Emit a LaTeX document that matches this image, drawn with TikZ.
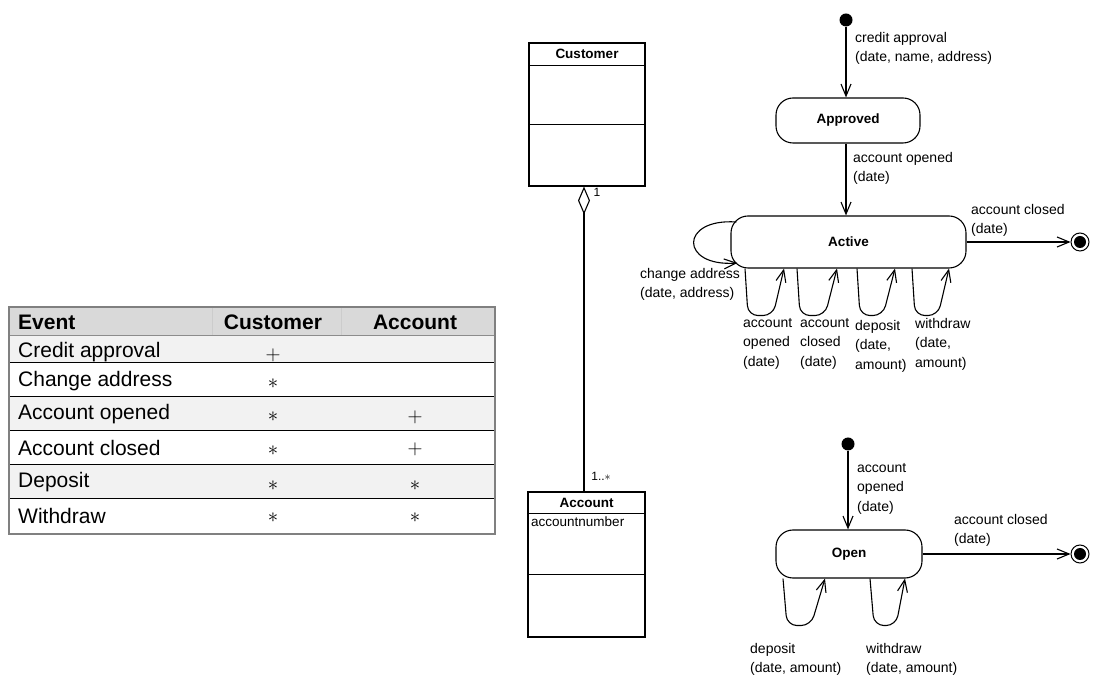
\documentclass[tikz,border=0pt]{standalone}
\usepackage{fontspec}
\setmainfont{Liberation Sans}
\usetikzlibrary{arrows.meta,positioning}

\begin{document}
\begin{tikzpicture}[x=1pt, y=1pt,
  state/.style = {rectangle, rounded corners=17pt, draw, line width=1.1pt, inner sep=0pt,
    font=\fontsize{13.5}{16}\selectfont\bfseries},
  init/.style = {circle, fill=black, inner sep=0pt, minimum size=13pt},
  final/.style = {circle, draw, line width=1pt, inner sep=0pt, minimum size=18pt,
    path picture={\fill (path picture bounding box.center) circle (6pt);}},
  trans/.style = {-{Straight Barb[length=12pt,width=10pt]}, line width=1.1pt},
  lbl/.style = {align=left, anchor=north west, inner sep=0pt,
    font=\fontsize{14}{19.5}\selectfont},
  cell/.style = {anchor=west, inner sep=0pt, font=\fontsize{21}{25}\selectfont},
  head/.style = {inner sep=0pt, font=\fontsize{21}{25}\selectfont\bfseries},
  sym/.style = {inner sep=0pt, font=\fontsize{21}{25}\selectfont},
  cls/.style = {draw, line width=1.1pt, inner sep=0pt},
  clsname/.style = {font=\fontsize{13.5}{16}\selectfont\bfseries}
  ]
  \useasboundingbox (0,0) rectangle (1111,680);

  % event table
  \fill[black!15] (9,345) rectangle (495,373);
  \fill[black!5] (9,317) rectangle (495,345);
  \fill[black!5] (9,249) rectangle (495,283);
  \fill[black!5] (9,181) rectangle (495,215);
  \draw[black!20] (212,345) -- (212,373) (341,345) -- (341,373);
  \draw[black!45] (9,345) -- (495,345);
  \draw[line width=1pt] (9,317) -- (495,317) (9,283) -- (495,283)
    (9,249) -- (495,249) (9,215) -- (495,215) (9,181) -- (495,181);
  \draw[black!50, line width=1.5pt] (9,146) rectangle (495,373);

  \node[head, anchor=west] (hev) at (18,358) {Event};
  \node[head] (hcu) at (273,358) {Customer};
  \node[head] (hac) at (415,358) {Account};
  \node[cell] (ev1) at (18,328) {Credit approval};
  \node[cell] (ev2) at (18,299) {Change address};
  \node[cell] (ev3) at (18,266) {Account opened};
  \node[cell] (ev4) at (18,232) {Account closed};
  \node[cell] (ev5) at (18,198) {Deposit};
  \node[cell] (ev6) at (18,164) {Withdraw};
  \node[sym] (cu1) at (273,325) {$+$};
  \node[sym] (cu2) at (273,296) {$\ast$};
  \node[sym] (cu3) at (273,263) {$\ast$};
  \node[sym] (cu4) at (273,229) {$\ast$};
  \node[sym] (cu5) at (273,194) {$\ast$};
  \node[sym] (cu6) at (273,162) {$\ast$};
  \node[sym] (ac3) at (415,263) {$+$};
  \node[sym] (ac4) at (415,231) {$+$};
  \node[sym] (ac5) at (415,194) {$\ast$};
  \node[sym] (ac6) at (415,162) {$\ast$};

  % class diagram
  \node[cls, minimum width=116pt, minimum height=143pt] (cust) at (587,565.5) {};
  \node[clsname, below=3pt of cust.north] (custname) {Customer};
  \draw[line width=1.1pt] ([yshift=-23pt]cust.north west) -- ([yshift=-23pt]cust.north east);
  \draw[line width=1.1pt] ([yshift=-82pt]cust.north west) -- ([yshift=-82pt]cust.north east);

  \node[cls, minimum width=117pt, minimum height=145pt] (acct) at (586.5,115.5) {};
  \node[clsname, below=3.5pt of acct.north] (acctname) {Account};
  \node[anchor=west, inner sep=0pt, font=\fontsize{13.5}{16}\selectfont] (acctnum) at (531,158) {accountnumber};
  \draw[line width=1.1pt] ([yshift=-22pt]acct.north west) -- ([yshift=-22pt]acct.north east);
  \draw[line width=1.1pt] ([yshift=-83pt]acct.north west) -- ([yshift=-83pt]acct.north east);

  \draw[{Diamond[open,length=28pt,width=12pt]}-, line width=1.1pt]
    ([xshift=-3pt]cust.south) -- ([xshift=-2.5pt]acct.north);
  \node[inner sep=0pt, font=\fontsize{12}{14}\selectfont] (mult1) at (597,488) {1};
  \node[inner sep=0pt, font=\fontsize{12}{14}\selectfont] (mult2) at (601,204) {1..$\ast$};

  % customer states
  \node[init] (init1) at (846,660) {};
  \node[state, minimum width=144pt, minimum height=45pt] (appr) at (848,559.5) {Approved};
  \node[state, minimum width=235pt, minimum height=52pt] (act) at (848.5,438) {Active};
  \node[final] (fin1) at (1080,438) {};

  \draw[trans] (init1) -- (init1 |- appr.north);
  \draw[trans] (appr.south -| init1) -- (act.north -| init1);
  \draw[trans] (act.east) -- (fin1);
  \draw[trans] ([xshift=6pt,yshift=20pt]act.west)
    .. controls ([xshift=-51pt,yshift=24pt]act.west) and ([xshift=-51pt,yshift=-25pt]act.west)
    .. ([xshift=7pt,yshift=-21pt]act.west);
  \draw[trans, rounded corners=10pt] ([xshift=-103.5pt]act.south) -- ++(3,-47) -- ++(25,0) -- ([xshift=-64.5pt]act.south);
  \draw[trans, rounded corners=10pt] ([xshift=-51.5pt]act.south) -- ++(3,-47) -- ++(25,0) -- ([xshift=-11.5pt]act.south);
  \draw[trans, rounded corners=10pt] ([xshift=8.5pt]act.south) -- ++(3,-47) -- ++(23,0) -- ([xshift=46.5pt]act.south);
  \draw[trans, rounded corners=10pt] ([xshift=63.5pt]act.south) -- ++(3,-47) -- ++(23,0) -- ([xshift=100.5pt]act.south);

  \node[lbl] (lcredit) at (855,648) {credit approval\\(date, name, address)};
  \node[lbl] (lopen1) at (853,528) {account opened\\(date)};
  \node[lbl] (lclose1) at (971,476) {account closed\\(date)};
  \node[lbl] (lchange) at (640,412) {change address\\(date, address)};
  \node[lbl] (lopen2) at (743,362) {account\\opened\\(date)};
  \node[lbl] (lclose2) at (800,362) {account\\closed\\(date)};
  \node[lbl] (ldep1) at (855,360) {deposit\\(date,\\amount)};
  \node[lbl] (lwdr1) at (915,362) {withdraw\\(date,\\amount)};

  % account states
  \node[init] (init2) at (848,236) {};
  \node[state, minimum width=146pt, minimum height=48pt] (open) at (849,126) {Open};
  \node[final] (fin2) at (1080,126) {};

  \draw[trans] (init2) -- (init2 |- open.north);
  \draw[trans] (open.east) -- (fin2);
  \draw[trans, rounded corners=10pt] ([xshift=-66pt]open.south) -- ++(4,-47) -- ++(24,0) -- ([xshift=-24pt]open.south);
  \draw[trans, rounded corners=10pt] ([xshift=21pt]open.south) -- ++(4,-47) -- ++(22,0) -- ([xshift=56pt]open.south);

  \node[lbl] (lopen3) at (857,217) {account\\opened\\(date)};
  \node[lbl] (lclose3) at (954,166) {account closed\\(date)};
  \node[lbl] (ldep2) at (750,37) {deposit\\(date, amount)};
  \node[lbl] (lwdr2) at (866,37) {withdraw\\(date, amount)};
\end{tikzpicture}
\end{document}
